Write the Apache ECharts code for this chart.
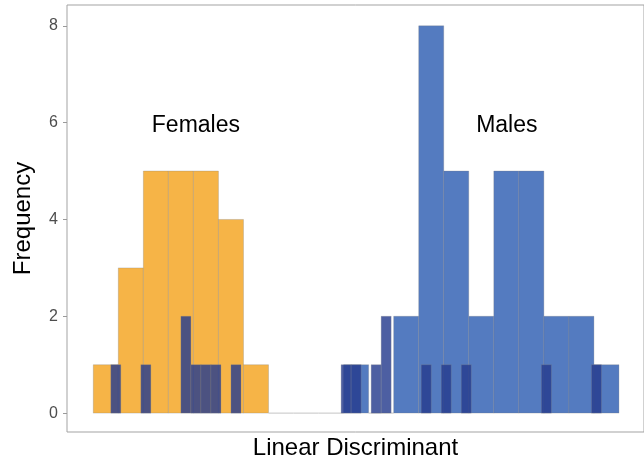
<!DOCTYPE html>
<html>
<head>
<meta charset="utf-8">
<script src="https://cdn.jsdelivr.net/npm/echarts@6/dist/echarts.min.js"></script>
<style>html,body{margin:0;padding:0;background:#fff}#c{width:644px;height:465px}</style>
</head>
<body>
<div id="c"></div>
<script>
// Histogram bins (bin width 1 unit of the linear discriminant scale)
const femaleBinStarts = [0, 1, 2, 3, 4, 5, 6];
const femaleCounts    = [1, 3, 5, 5, 5, 4, 1];
const maleBinStarts   = [7, 8, 9, 10, 11, 12, 13, 14, 15, 16, 17, 18, 19, 20];
const maleCounts      = [0, 0, 0, 1, 0, 2, 8, 5, 2, 5, 5, 2, 2, 1];
const binWidth = 1;
// Fine-bin overlay (bin width 0.4)
const fineBinStarts = [0.7, 1.9, 3.5, 3.9, 4.3, 4.7, 5.5, 9.9, 10.3, 11.1, 11.5, 13.1, 13.9, 14.7, 17.9, 19.9];
const fineCounts    = [1,   1,   2,   1,   1,   1,   1,   1,   1,    1,    2,    1,    1,    1,    1,    1];
const fineWidth = 0.4;
// Group annotations
const groupNames = ['Females', 'Males'];
const groupLabelX = [4.1, 16.52];
const groupLabelY = [5.94, 5.94];
const yTicks = [0, 2, 4, 6, 8];

const FONT = 'Liberation Sans, Arial, sans-serif';

function toData(starts, counts, w) {
  return starts.map((s, i) => [s, s + w, counts[i]]);
}

function makeRender(fill, stroke) {
  return function (params, api) {
    const x0 = api.value(0), x1 = api.value(1), y = api.value(2);
    const p0 = api.coord([x0, y]);
    const p1 = api.coord([x1, 0]);
    if (y === 0) {
      return { type: 'line', shape: { x1: p0[0], y1: p1[1], x2: p1[0], y2: p1[1] },
        style: { stroke: '#c4c4c4', lineWidth: 1 } };
    }
    return {
      type: 'rect',
      shape: { x: p0[0], y: p0[1], width: p1[0] - p0[0], height: p1[1] - p0[1] },
      style: { fill: fill, stroke: stroke, lineWidth: 0.8 }
    };
  };
}

const chart = echarts.init(document.getElementById('c'), null, { renderer: 'canvas' });
chart.setOption({
  animation: false,
  textStyle: { fontFamily: FONT },
  grid: { left: 67, right: -1, top: 5, bottom: 30, show: true, borderColor: '#a3a3a3', borderWidth: 1, backgroundColor: 'transparent' },
  xAxis: {
    type: 'value', min: -1.05, max: 22.0,
    name: 'Linear Discriminant', nameLocation: 'middle', nameGap: 4,
    nameTextStyle: { fontSize: 24, color: '#000', fontFamily: FONT, verticalAlign: 'top' },
    axisLine: { show: false, onZero: false }, axisTick: { show: false }, axisLabel: { show: false }, splitLine: { show: false }
  },
  yAxis: {
    type: 'value', min: -0.39, max: 8.43,
    name: 'Frequency', nameLocation: 'middle', nameGap: 32, nameRotate: 90,
    nameTextStyle: { fontSize: 24, color: '#000', fontFamily: FONT },
    axisLine: { show: false, onZero: false },
    axisTick: { show: true, length: 4, lineStyle: { color: '#9a9a9a' }, customValues: yTicks },
    axisLabel: { show: true, fontSize: 16, color: '#4d4d4d', margin: 9, fontFamily: FONT, customValues: yTicks },
    splitLine: { show: false }
  },
  series: [
    { type: 'custom', renderItem: makeRender('#F6B447', 'rgba(120,120,120,0.35)'),
      encode: { x: [0, 1], y: 2 }, data: toData(femaleBinStarts, femaleCounts, binWidth) },
    { type: 'custom', renderItem: makeRender('#547BC0', 'rgba(120,120,120,0.35)'),
      encode: { x: [0, 1], y: 2 }, data: toData(maleBinStarts, maleCounts, binWidth) },
    { type: 'custom', renderItem: makeRender('rgba(38,60,142,0.82)', 'rgba(140,140,140,0.35)'),
      encode: { x: [0, 1], y: 2 }, data: toData(fineBinStarts, fineCounts, fineWidth) },
    { type: 'scatter', symbolSize: 0,
      data: groupNames.map((n, i) => ({ name: n, value: [groupLabelX[i], groupLabelY[i]] })),
      label: { show: true, position: 'inside', formatter: '{b}', fontSize: 23, color: '#000',
        textBorderWidth: 0, textBorderColor: 'transparent', opacity: 1, fontFamily: FONT },
      emphasis: { disabled: true },
      silent: true }
  ]
});
</script>
</body>
</html>
